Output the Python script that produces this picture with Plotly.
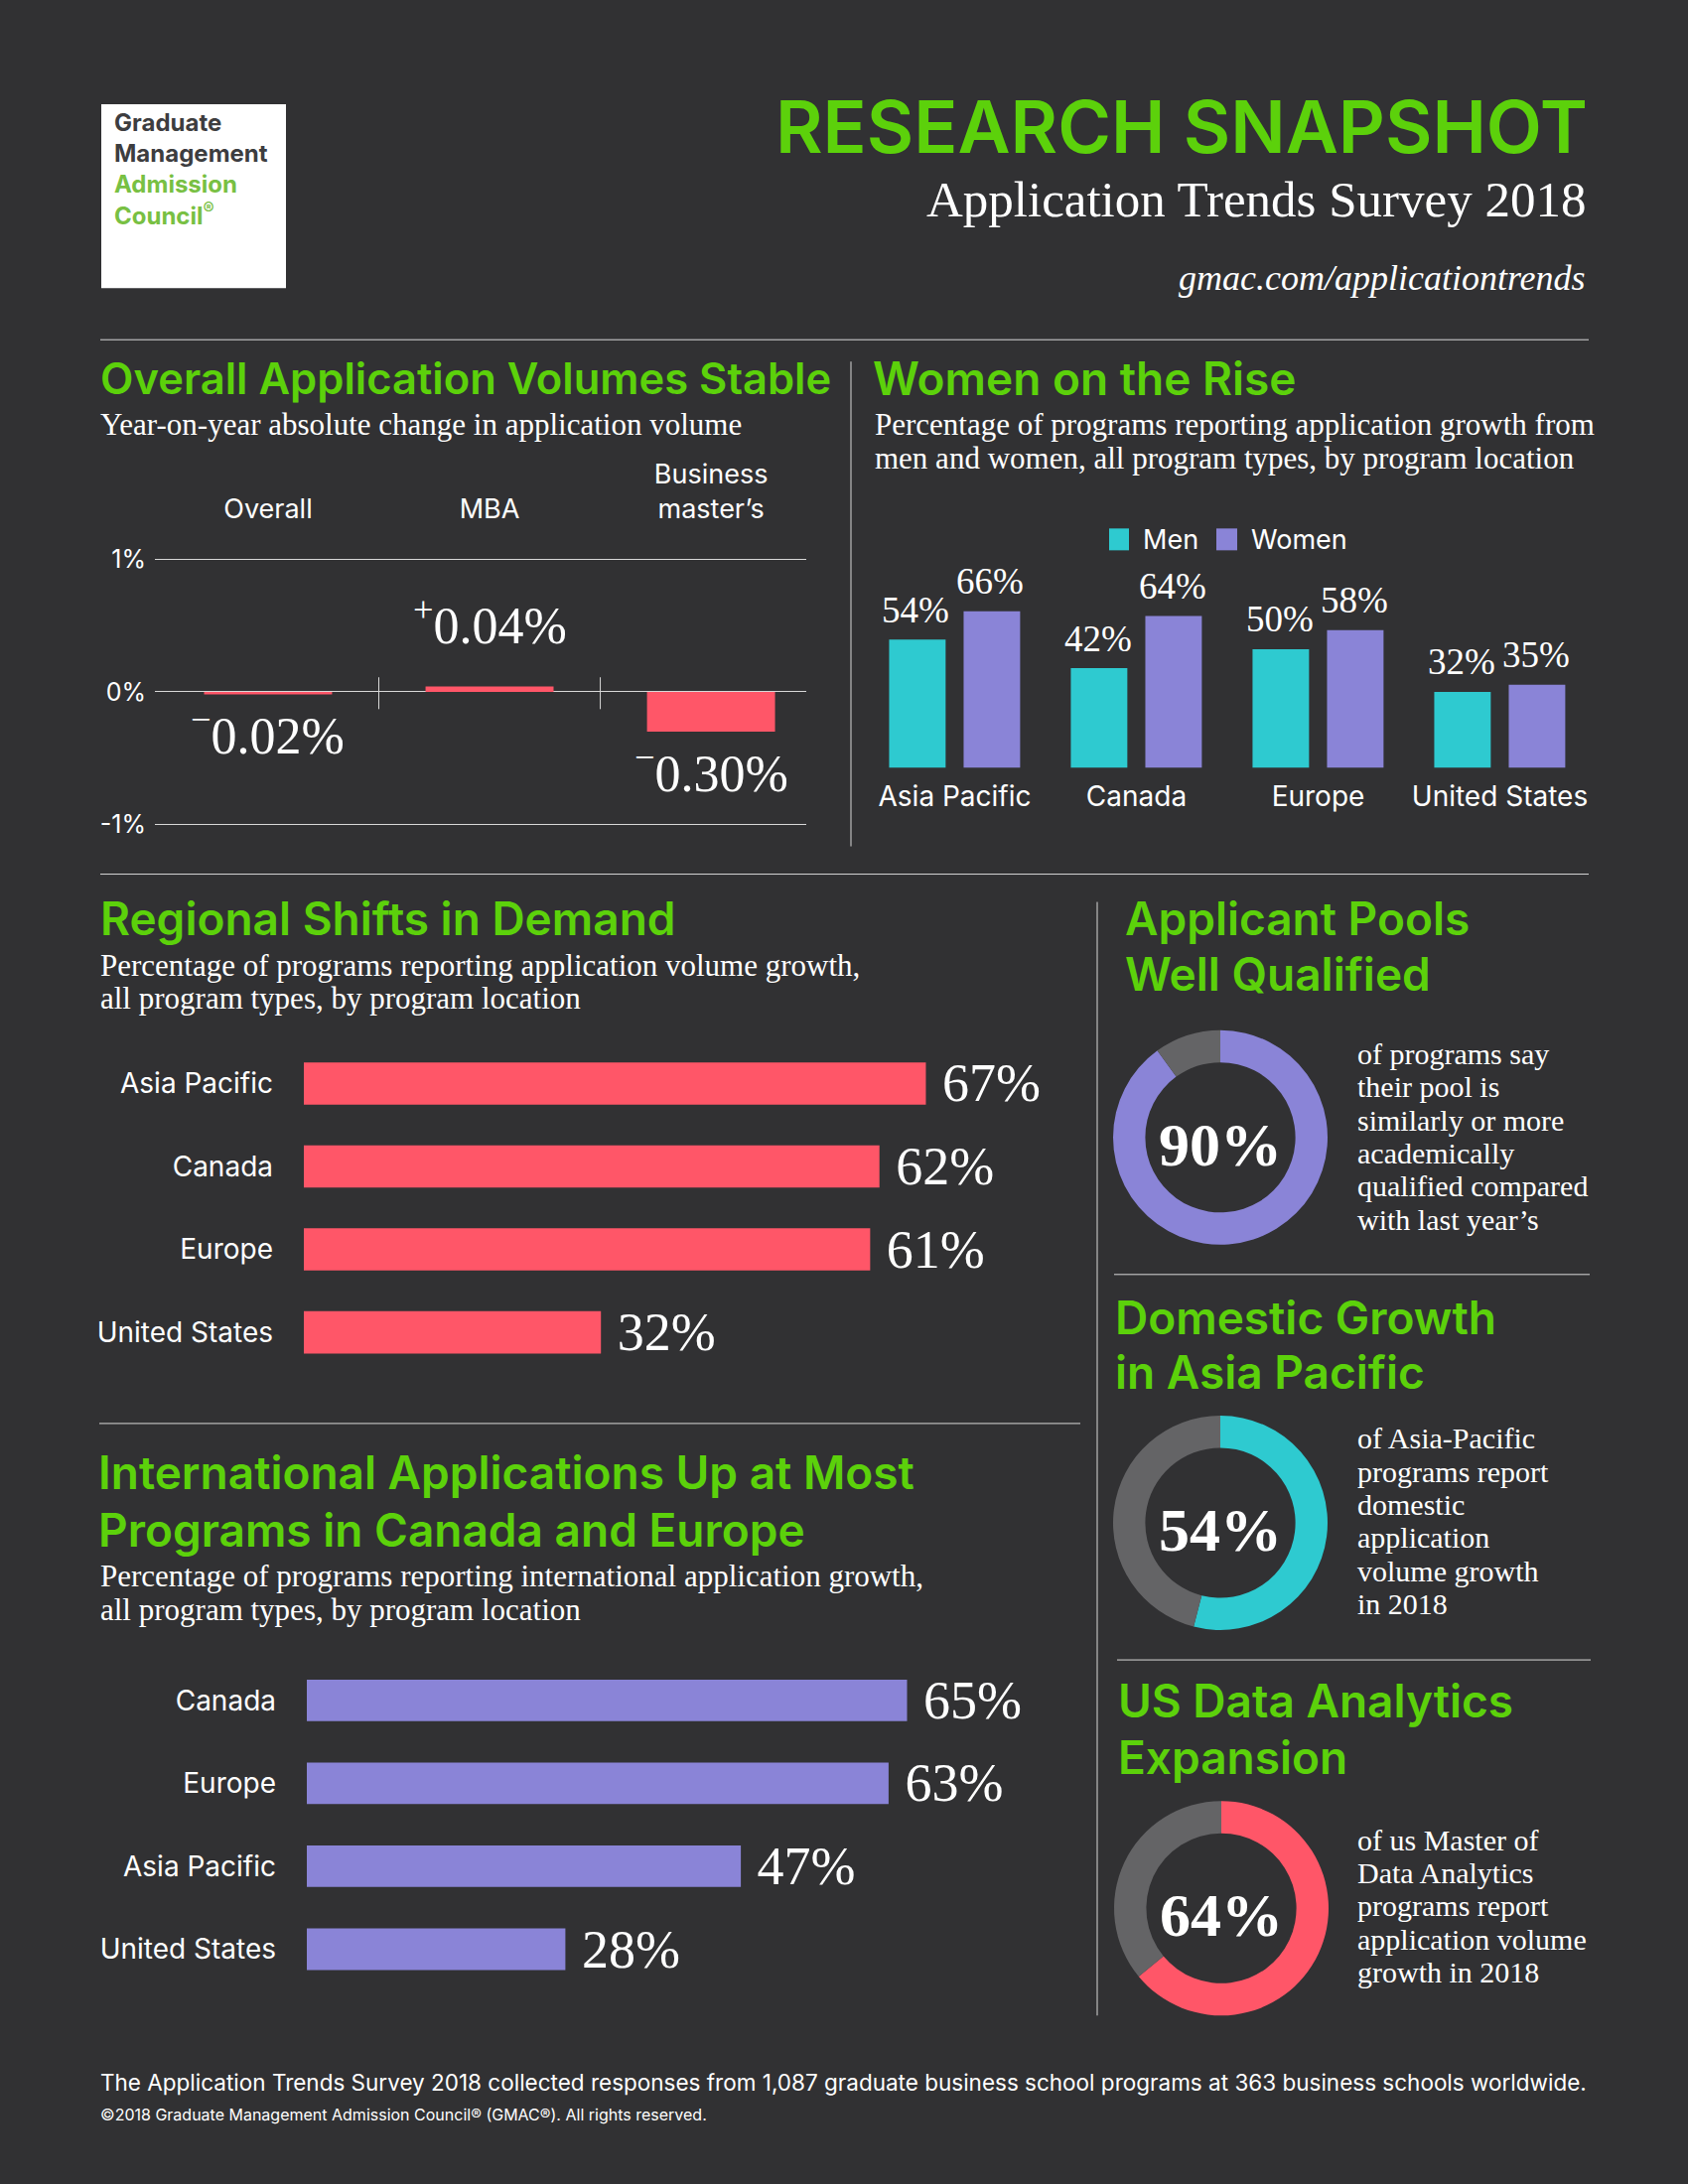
import plotly.graph_objects as go

W, H = 1700, 2200
# small vertical correction for how the page gets photographed
SY, OY = 0.988, 12
BG = "#313133"
GREEN = "#5cd10b"
WHITE = "#ffffff"
LINE = "#d8d8d8"
RED = "#ff5668"
TEAL = "#2ecad0"
PURPLE = "#8a84d7"
GREY = "#646466"
SANS = "Inter, Noto Sans, sans-serif"
SERIF = "Liberation Serif, DejaVu Serif, serif"

# ---- data ----
overall_cats = ["Overall", "MBA", "Business<br>master’s"]
overall_change = [-0.02, 0.04, -0.30]

women_regions = ["Asia Pacific", "Canada", "Europe", "United States"]
men_growth = [54, 42, 50, 32]
women_growth = [66, 64, 58, 35]

demand_regions = ["Asia Pacific", "Canada", "Europe", "United States"]
demand_growth = [67, 62, 61, 32]

intl_regions = ["Canada", "Europe", "Asia Pacific", "United States"]
intl_growth = [65, 63, 47, 28]

qualified_pct = 90
domestic_pct = 54
analytics_pct = 64


def fx(x):
    return x / W


def fy(y):
    return 1 - ((y - OY) / SY) / H


fig = go.Figure()


def txt(x, y, s, size, color=WHITE, family=SANS, anchor="left", weight=None):
    fig.add_annotation(x=fx(x), y=fy(y), xref="paper", yref="paper", text=s,
                       showarrow=False, xanchor=anchor, yanchor="middle",
                       font=dict(family=family, size=size, color=color, weight=weight))


def hline(x0, x1, y):
    fig.add_shape(type="line", xref="paper", yref="paper", x0=fx(x0), x1=fx(x1),
                  y0=fy(y), y1=fy(y), line=dict(color=LINE, width=1))


def vline(x, y0, y1):
    fig.add_shape(type="line", xref="paper", yref="paper", x0=fx(x), x1=fx(x),
                  y0=fy(y0), y1=fy(y1), line=dict(color=LINE, width=1))


# ---- header ----
fig.add_shape(type="rect", xref="paper", yref="paper", x0=fx(102), x1=fx(288),
              y0=fy(289), y1=fy(104), fillcolor=WHITE, line=dict(width=0))
fig.add_annotation(x=fx(113), y=fy(169), xref="paper", yref="paper", showarrow=False,
                   xanchor="left", yanchor="middle", align="left",
                   text="Graduate<br>Management<br><span style='color:#78c043'>Admission</span>"
                        "<br><span style='color:#78c043'>Council<sup>®</sup></span>",
                   font=dict(family=SANS, size=24, color="#3d3d3f", weight=700))

txt(1601, 126, "RESEARCH SNAPSHOT", 73, GREEN, anchor="right", weight=600)
txt(1599, 200, "Application Trends Survey 2018", 51, family=SERIF, anchor="right")
txt(1599, 279, "<i>gmac.com/applicationtrends</i>", 36, family=SERIF, anchor="right")
hline(101, 1600, 341)

# ---- overall application volumes ----
txt(99, 380, "Overall Application Volumes Stable", 43.5, GREEN, weight=600)
txt(99, 426, "Year-on-year absolute change in application volume", 31, family=SERIF)
vline(857, 363, 851)

fig.add_trace(go.Bar(x=overall_cats, y=overall_change, marker_color=RED, width=0.578,
                     xaxis="x", yaxis="y", hoverinfo="skip", marker_line_width=0))
for c, v in zip(overall_cats, overall_change):
    sign = "−" if v < 0 else "+"
    fig.add_annotation(x=c, y=v, xref="x", yref="y", showarrow=False,
                       text="<sup>%s</sup>%.2f%%" % (sign, abs(v)),
                       yshift=-38 if v < 0 else 65, yanchor="middle",
                       font=dict(family=SERIF, size=52, color=WHITE))
for xb in [0.5, 1.5]:
    fig.add_shape(type="line", xref="x", yref="y", x0=xb, x1=xb, y0=-0.13, y1=0.11,
                  line=dict(color=LINE, width=1))

# ---- women on the rise ----
txt(877, 380, "Women on the Rise", 46, GREEN, weight=600)
txt(879, 426, "Percentage of programs reporting application growth from", 31, family=SERIF)
txt(879, 460, "men and women, all program types, by program location", 31, family=SERIF)

fig.add_trace(go.Bar(x=women_regions, y=men_growth, marker_color=TEAL, width=0.311,
                     offset=-0.361, xaxis="x2", yaxis="y2", hoverinfo="skip",
                     marker_line_width=0, name="Men"))
fig.add_trace(go.Bar(x=women_regions, y=women_growth, marker_color=PURPLE, width=0.311,
                     offset=0.049, xaxis="x2", yaxis="y2", hoverinfo="skip",
                     marker_line_width=0, name="Women"))
for series, shift in [(men_growth, -39), (women_growth, 36)]:
    for c, v in zip(women_regions, series):
        fig.add_annotation(x=c, y=v, xref="x2", yref="y2", showarrow=False,
                           text="%d%%" % v, xshift=shift, yshift=30, yanchor="middle",
                           font=dict(family=SERIF, size=37, color=WHITE))

# legend
fig.add_shape(type="rect", xref="paper", yref="paper", x0=fx(1117), x1=fx(1137),
              y0=fy(553), y1=fy(531), fillcolor=TEAL, line=dict(width=0))
fig.add_shape(type="rect", xref="paper", yref="paper", x0=fx(1225), x1=fx(1246),
              y0=fy(553), y1=fy(531), fillcolor=PURPLE, line=dict(width=0))
txt(1149, 542, "Men", 27)
txt(1258, 542, "Women", 27)

hline(101, 1600, 879)

# ---- regional shifts ----
txt(99, 923, "Regional Shifts in Demand", 46, GREEN, weight=600)
txt(99, 971, "Percentage of programs reporting application volume growth,", 31, family=SERIF)
txt(99, 1004, "all program types, by program location", 31, family=SERIF)

fig.add_trace(go.Bar(x=demand_growth, y=demand_regions, orientation="h", marker_color=RED,
                     width=0.51, xaxis="x3", yaxis="y3", hoverinfo="skip", marker_line_width=0,
                     texttemplate=" %{x}%", textposition="outside", cliponaxis=False,
                     constraintext="none", textfont=dict(family=SERIF, size=54, color=WHITE)))

vline(1105, 907, 2028)
hline(100, 1088, 1432)

# ---- international ----
txt(97, 1481, "International Applications Up at Most", 46, GREEN, weight=600)
txt(97, 1539, "Programs in Canada and Europe", 46, GREEN, weight=600)
txt(99, 1585, "Percentage of programs reporting international application growth,", 31, family=SERIF)
txt(99, 1619, "all program types, by program location", 31, family=SERIF)

fig.add_trace(go.Bar(x=intl_growth, y=intl_regions, orientation="h", marker_color=PURPLE,
                     width=0.5, xaxis="x4", yaxis="y4", hoverinfo="skip", marker_line_width=0,
                     texttemplate=" %{x}%", textposition="outside", cliponaxis=False,
                     constraintext="none", textfont=dict(family=SERIF, size=54, color=WHITE)))


# ---- right column donuts ----
def donut(cx, cy, pct, color, lines, line_y):
    r = 108
    fig.add_trace(go.Pie(values=[pct, 100 - pct], marker=dict(colors=[color, GREY], line=dict(width=0)),
                         hole=0.70, sort=False, direction="clockwise", rotation=0,
                         textinfo="none", hoverinfo="skip", showlegend=False,
                         domain=dict(x=[fx(cx - r), fx(cx + r)], y=[fy(cy + r), fy(cy - r)]),
                         title=dict(text="%d%%" % pct, position="middle center",
                                    font=dict(family=SERIF, size=62, color=WHITE, weight=700))))
    for i, s in enumerate(lines):
        txt(1365, line_y + i * 33.3, s, 30, family=SERIF)


txt(1131, 923, "Applicant Pools", 46, GREEN, weight=600)
txt(1131, 979, "Well Qualified", 46, GREEN, weight=600)
donut(1229, 1144, qualified_pct, PURPLE,
      ["of programs say", "their pool is", "similarly or more", "academically",
       "qualified compared", "with last year’s"], 1060)
hline(1122, 1601, 1282)

txt(1121, 1325, "Domestic Growth", 46, GREEN, weight=600)
txt(1121, 1380, "in Asia Pacific", 46, GREEN, weight=600)
donut(1229, 1532, domestic_pct, TEAL,
      ["of Asia-Pacific", "programs report", "domestic", "application",
       "volume growth", "in 2018"], 1447)
hline(1125, 1602, 1670)

txt(1124, 1711, "US Data Analytics", 46, GREEN, weight=600)
txt(1124, 1768, "Expansion", 46, GREEN, weight=600)
donut(1230, 1920, analytics_pct, RED,
      ["of us Master of", "Data Analytics", "programs report", "application volume",
       "growth in 2018"], 1851)

# ---- footer ----
txt(99, 2095, "The Application Trends Survey 2018 collected responses from 1,087 graduate business "
    "school programs at 363 business schools worldwide.", 22.5)
txt(99, 2128, "©2018 Graduate Management Admission Council® (GMAC®). All rights reserved.", 16)

# ---- axes ----
hidden = dict(visible=False, showgrid=False, zeroline=False)
fig.update_layout(
    width=W, height=H, margin=dict(l=0, r=0, t=0, b=0),
    paper_bgcolor=BG, plot_bgcolor="rgba(0,0,0,0)", showlegend=False,
    font=dict(family=SANS, color=WHITE),
    xaxis=dict(domain=[fx(156), fx(812)], anchor="y", type="category", range=[-0.511, 2.43],
               side="top", showgrid=False, zeroline=False, showline=False, ticks="",
               ticklabelstandoff=32, tickfont=dict(family=SANS, size=27, color=WHITE)),
    yaxis=dict(domain=[fy(831.7), fy(559.3)], anchor="x", range=[-1.02, 1.02],
               tickvals=[-1, 0, 1], ticktext=["-1%", "0%", "1%"], showgrid=True,
               gridcolor=LINE, gridwidth=1, zeroline=True, zerolinecolor=LINE, zerolinewidth=1,
               showline=False, ticks="", ticklabelstandoff=8,
               tickfont=dict(family=SANS, size=25, color=WHITE)),
    xaxis2=dict(domain=[fx(870), fx(1602)], anchor="y2", type="category", range=[-0.5, 3.5],
                showgrid=False, zeroline=False, showline=False, ticks="",
                ticklabelstandoff=10, tickfont=dict(family=SANS, size=28, color=WHITE)),
    yaxis2=dict(domain=[fy(772), fy(533)], anchor="x2", range=[0, 100], **hidden),
    xaxis3=dict(domain=[fx(306), fx(1241)], anchor="y3", range=[0, 100], **hidden),
    yaxis3=dict(domain=[fy(1382), fy(1048)], anchor="x3", type="category",
                categoryorder="array", categoryarray=demand_regions, autorange="reversed",
                showgrid=False, zeroline=False, showline=False, ticks="",
                ticklabelstandoff=30, tickfont=dict(family=SANS, size=28, color=WHITE)),
    xaxis4=dict(domain=[fx(309), fx(1239)], anchor="y4", range=[0, 100], **hidden),
    yaxis4=dict(domain=[fy(2003), fy(1669)], anchor="x4", type="category",
                categoryorder="array", categoryarray=intl_regions, autorange="reversed",
                showgrid=False, zeroline=False, showline=False, ticks="",
                ticklabelstandoff=30, tickfont=dict(family=SANS, size=28, color=WHITE)),
)

fig.write_html("out.html", config={"displayModeBar": False},
               post_script="document.body.style.margin='0';document.body.style.overflow='hidden';")
